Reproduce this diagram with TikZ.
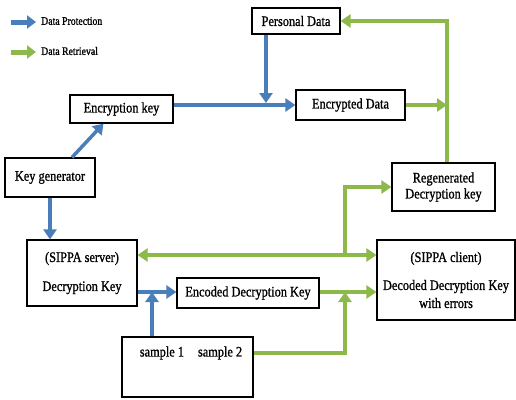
\documentclass[tikz,border=0pt]{standalone}
\usepackage{fontspec}
\setmainfont{Liberation Serif}[FakeStretch=0.85,FakeBold=1]
\usetikzlibrary{arrows.meta,calc}
\definecolor{pblue}{HTML}{4A7EBB}
\definecolor{rgreen}{HTML}{8DB84A}
\tikzset{
  box/.style={draw=black, line width=1.2pt, rectangle, inner sep=2pt, font=\fontsize{14.5}{18}\selectfont, align=center},
  txt/.style={inner sep=0pt, font=\fontsize{14.5}{16}\selectfont},
  legtxt/.style={inner sep=0pt, anchor=west, font=\fontsize{11.5}{13}\selectfont},
  barrow/.style={pblue, line width=3.5pt, -{Triangle[length=10pt,width=13pt]}},
  garrow/.style={rgreen, line width=3.5pt, -{Triangle[length=10pt,width=13pt]}},
  gdarrow/.style={rgreen, line width=3.5pt, {Triangle[length=10pt,width=13pt]}-{Triangle[length=10pt,width=13pt]}},
  legarrow/.style={line width=5pt, -{Triangle[length=9pt,width=13pt]}},
}
\begin{document}
\begin{tikzpicture}[x=1pt,y=-1pt]
\useasboundingbox (0,0) rectangle (516,399);
% legend
\coordinate (l1a) at (11,22);
\coordinate (l1b) at (36,22);
\coordinate (l2a) at (11,52);
\coordinate (l2b) at (36,52);
\draw[legarrow, pblue] (l1a) -- (l1b);
\draw[legarrow, rgreen] (l2a) -- (l2b);
\node[legtxt] (lt1) at (41,21) {Data Protection};
\node[legtxt] (lt2) at (41,51) {Data Retrieval};
% boxes
\node[box, minimum width=88pt, minimum height=26pt] (pd) at (296,21) {Personal Data};
\node[box, minimum width=103pt, minimum height=28pt] (ek) at (121.5,109) {Encryption key};
\node[box, minimum width=109pt, minimum height=30pt] (ed) at (350.5,105) {Encrypted Data};
\node[box, minimum width=90pt, minimum height=39pt] (kg) at (50,177.5) {Key generator};
\node[box, minimum width=103pt, minimum height=48pt, font=\fontsize{14.5}{16}\selectfont] (rdk) at (443.5,187) {Regenerated\\Decryption key};
\node[box, minimum width=110pt, minimum height=66pt] (srv) at (82,273) {(SIPPA server)\\[11pt]Decryption Key};
\node[box, minimum width=142pt, minimum height=30pt] (edk) at (248,293) {Encoded Decryption Key};
\node[box, minimum width=138pt, minimum height=80pt] (cli) at (446,280) {(SIPPA client)\\[10pt]Decoded Decryption Key\\with errors};
\node[box, minimum width=131pt, minimum height=60pt] (smp) at (187.5,367) {};
\node[txt] (smpt) at (191,353) {sample 1\hspace{14pt}sample 2};
% junctions
\coordinate (j1) at (266,103);
\coordinate (g1) at (447,105);
\coordinate (g2) at (345,255);
\coordinate (b2) at (152,292);
\coordinate (g3) at (345,292);
% blue arrows
\draw[barrow] (pd.south -| j1) -- (j1);
\draw[barrow] (ek.east |- ed.west) -- (ed.west);
\draw[barrow] ($(kg.north)+(22,0)$) -- ($(ek.south)+(-18,0)$);
\draw[barrow] (kg.south) -- (kg.south |- srv.north);
\draw[barrow] (srv.east |- b2) -- (edk.west |- b2);
\draw[barrow] (smp.north -| b2) -- (b2);
% green arrows
\draw[garrow] (ed.east) -- (ed.east -| g1);
\draw[garrow] (rdk.north -| g1) -- (g1 |- pd.east) -- (pd.east);
\draw[gdarrow] (srv.east |- g2) -- (cli.west |- g2);
\draw[garrow] (g2) |- (rdk.west);
\draw[garrow] (edk.east |- g3) -- (cli.west |- g3);
\draw[garrow] (smp.east |- smpt) -| (g3);
\end{tikzpicture}
\end{document}
